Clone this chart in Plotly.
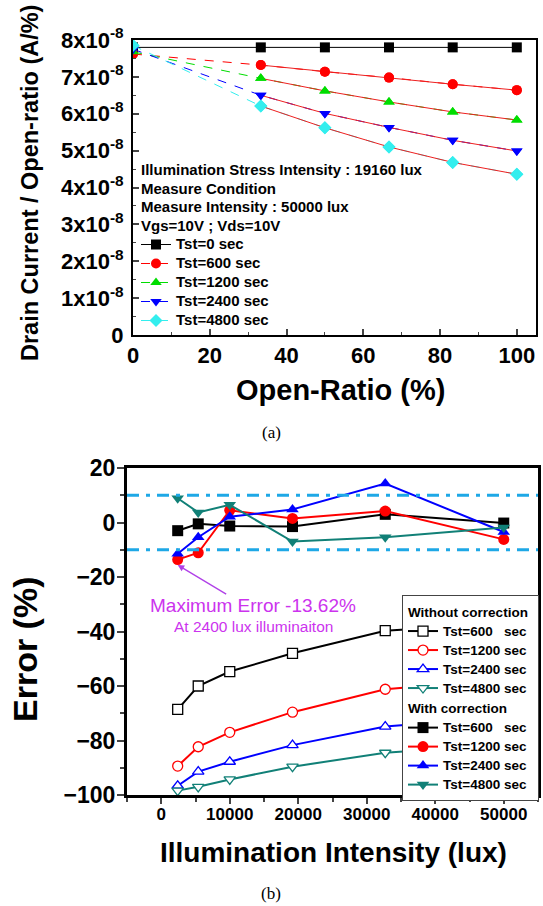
import plotly.graph_objects as go

# ---------------- data (a) ----------------
open_ratio = [0, 33.3, 50, 66.7, 83.3, 100]
i_tst0 = [7.80e-8, 7.80e-8, 7.80e-8, 7.80e-8, 7.80e-8, 7.80e-8]
i_tst600 = [7.62e-8, 7.32e-8, 7.14e-8, 6.98e-8, 6.80e-8, 6.64e-8]
i_tst1200 = [7.68e-8, 6.96e-8, 6.62e-8, 6.32e-8, 6.05e-8, 5.83e-8]
i_tst2400 = [7.75e-8, 6.50e-8, 6.01e-8, 5.63e-8, 5.28e-8, 4.99e-8]
i_tst4800 = [7.85e-8, 6.21e-8, 5.62e-8, 5.10e-8, 4.68e-8, 4.36e-8]
a_names = ["Tst=0 sec", "Tst=600 sec", "Tst=1200 sec", "Tst=2400 sec", "Tst=4800 sec"]
a_ytickvals = [0, 1e-8, 2e-8, 3e-8, 4e-8, 5e-8, 6e-8, 7e-8, 8e-8]
a_yticktext = ["0"] + [f"{k}x10<sup>-8</sup>" for k in range(1, 9)]

# ---------------- data (b) ----------------
lux = [2400, 5400, 10000, 19160, 32700, 50000]
wo_600 = [-68.6, -60.0, -54.7, -48.0, -39.7, -37.0]
wo_1200 = [-89.4, -82.3, -77.0, -69.6, -61.2, -57.5]
wo_2400 = [-96.6, -91.4, -87.8, -81.7, -74.9, -71.5]
wo_4800 = [-98.4, -97.0, -94.3, -89.6, -84.5, -81.5]
wc_600 = [-3.0, -0.5, -1.3, -1.5, 3.0, -0.2]
wc_1200 = [-13.62, -11.1, 4.5, 1.5, 4.2, -6.2]
wc_2400 = [-11.5, -5.4, 2.1, 4.8, 14.3, -3.5]
wc_4800 = [8.9, 3.7, 6.5, -7.0, -5.4, -1.8]
b_names = ["Tst=600\u00a0\u00a0\u00a0sec", "Tst=1200 sec", "Tst=2400 sec", "Tst=4800 sec"]
b_xtickvals = [0, 10000, 20000, 30000, 40000, 50000]
b_xticktext = ["0", "10000", "20000", "30000", "40000", "50000"]
limits = [10, -10]

FONT = "Liberation Sans, Arial, sans-serif"
W, H = 543, 906

fig = go.Figure()

# ---- (a) traces ----
a_series = [i_tst0, i_tst600, i_tst1200, i_tst2400, i_tst4800]
a_colors = ["#000000", "#ff0000", "#00dd00", "#0000ff", "#33eeee"]
a_symbols = ["square", "circle", "triangle-up", "triangle-down", "diamond"]
LS = "<span style='font-size:15px'>%s</span>"
for k, (ys, c, s, n) in enumerate(zip(a_series, a_colors, a_symbols, a_names)):
    fig.add_trace(go.Scatter(
        x=open_ratio, y=ys, mode="lines+markers", name=LS % n,
        line=dict(color=c, width=1, dash="solid" if k == 0 else "dash"),
        marker=dict(symbol=s, size=10, color=c, line=dict(width=0)),
        xaxis="x", yaxis="y", legend="legend"))
for ys in a_series[1:]:
    fig.add_trace(go.Scatter(
        x=open_ratio[1:], y=ys[1:], mode="lines", showlegend=False,
        line=dict(color="#ee2020", width=1), hoverinfo="skip",
        xaxis="x", yaxis="y"))
for ys, c, s in zip(a_series[1:], a_colors[1:], a_symbols[1:]):
    fig.add_trace(go.Scatter(
        x=open_ratio, y=ys, mode="markers", showlegend=False,
        marker=dict(symbol=s, size=10, color=c), xaxis="x", yaxis="y"))

# ---- (b) traces ----
b_colors = ["#000000", "#ff0000", "#0000ff", "#118077"]
b_symbols = ["square", "circle", "triangle-up", "triangle-down"]
LB = "<span style='font-size:13.5px;font-weight:bold'>%s</span>"
for k, (ys, c, s) in enumerate(zip([wo_600, wo_1200, wo_2400, wo_4800], b_colors, b_symbols)):
    fig.add_trace(go.Scatter(
        x=lux, y=ys, mode="lines+markers", name=LB % b_names[k],
        line=dict(color=c, width=2),
        marker=dict(symbol=s, size=10, color="white", line=dict(color=c, width=1.3)),
        legendgroup="wo", legendgrouptitle=dict(text="<b>Without correction</b>"),
        xaxis="x2", yaxis="y2", legend="legend2"))
for k, (ys, c, s) in enumerate(zip([wc_600, wc_1200, wc_2400, wc_4800], b_colors, b_symbols)):
    fig.add_trace(go.Scatter(
        x=lux, y=ys, mode="lines+markers", name=LB % b_names[k],
        line=dict(color=c, width=2),
        marker=dict(symbol=s, size=11, color=c, line=dict(width=0)),
        legendgroup="w", legendgrouptitle=dict(text="<b>With correction</b>"),
        xaxis="x2", yaxis="y2", legend="legend2"))

# limit lines
for v in limits:
    fig.add_shape(type="line", xref="x2 domain", yref="y2", x0=0, x1=1, y0=v, y1=v,
                  line=dict(color="#1ea8e6", width=3, dash="12px,7px,4px,7px"))

fig.update_layout(
    width=W, height=H, margin=dict(l=0, r=0, t=0, b=0, autoexpand=False),
    paper_bgcolor="white", plot_bgcolor="white", showlegend=True,
    xaxis=dict(domain=[133 / W, 536 / W], range=[0, 105], anchor="y", automargin=False,
               tickvals=[0, 20, 40, 60, 80, 100], ticks="inside", ticklen=6, tickwidth=1.5,
               minor=dict(dtick=10, ticks="inside", ticklen=3, tickwidth=1.2),
               showline=True, linecolor="black", linewidth=2, mirror=True,
               showgrid=False, zeroline=False,
               tickfont=dict(family=FONT, size=22, color="black", weight="bold")),
    yaxis=dict(domain=[1 - 335 / H, 1 - 40 / H], range=[0, 8e-8], anchor="x", automargin=False,
               tickvals=a_ytickvals, ticktext=a_yticktext, ticks="inside", ticklen=6, tickwidth=1.5,
               minor=dict(dtick=0.5e-8, ticks="inside", ticklen=3, tickwidth=1.2),
               showline=True, linecolor="black", linewidth=2, mirror=True,
               showgrid=False, zeroline=False, ticklabelstandoff=3,
               tickfont=dict(family=FONT, size=22, color="black", weight="bold")),
    xaxis2=dict(domain=[127 / W, 538 / W], range=[-5000, 55000], anchor="y2", automargin=False,
                tickvals=b_xtickvals, ticktext=b_xticktext, ticks="outside", ticklen=6, tickwidth=2,
                minor=dict(dtick=5000, ticks="outside", ticklen=4, tickwidth=1.5),
                showline=True, linecolor="black", linewidth=3, mirror=True,
                showgrid=False, zeroline=False, ticklabelstandoff=-4,
                tickfont=dict(family=FONT, size=17, color="black", weight="bold")),
    yaxis2=dict(domain=[1 - 795 / H, 1 - 468 / H], range=[-100, 20], anchor="x2", automargin=False,
                tickvals=[-100, -80, -60, -40, -20, 0, 20], ticks="outside", ticklen=7, tickwidth=2,
                minor=dict(dtick=10, ticks="outside", ticklen=4, tickwidth=1.5),
                showline=True, linecolor="black", linewidth=3, mirror=True,
                showgrid=False, zeroline=False, ticklabelstandoff=-3,
                tickfont=dict(family=FONT, size=23, color="black", weight="bold")),
    legend=dict(x=136 / W, y=1 - 230 / H, xanchor="left", yanchor="top",
                bgcolor="rgba(0,0,0,0)", borderwidth=0,
                font=dict(family=FONT, size=11.9, color="black", weight="bold"),
                tracegroupgap=0, itemwidth=30),
    legend2=dict(x=539 / W, y=1 - 595 / H, xanchor="right", yanchor="top",
                 bgcolor="white", bordercolor="#444", borderwidth=1,
                 font=dict(family=FONT, size=12.2, color="black"),
                 grouptitlefont=dict(family=FONT, size=13.5, color="black"),
                 tracegroupgap=0, itemwidth=30, traceorder="grouped"),
)

anns = []
def add_text(text, x, y, size, color="black", family=FONT, angle=0, xanchor="center"):
    anns.append(dict(text=text, x=x / W, y=1 - y / H, xref="paper", yref="paper",
                     xanchor=xanchor, yanchor="middle", textangle=angle, showarrow=False,
                     font=dict(family=family, size=size, color=color)))

# (a) inner texts
a_texts = ["Illumination Stress Intensity : 19160 lux", "Measure Condition",
           "Measure Intensity : 50000 lux", "Vgs=10V ; Vds=10V"]
for i, t in enumerate(a_texts):
    add_text(f"<b>{t}</b>", 139, 170 + 18.5 * i, 15, xanchor="left")
# axis titles / captions
add_text("<b>Drain Current / Open-ratio (A/%)</b>", 30, 183, 23.5, angle=-90)
add_text("<b>Open-Ratio (%)</b>", 340, 390, 29)
add_text("(a)", 271, 432, 17, family="Liberation Serif, serif")
add_text("<b>Error (%)</b>", 25, 650, 34, angle=-90)
add_text("<b>Illumination Intensity (lux)</b>", 333, 852, 28)
add_text("(b)", 271, 893, 17, family="Liberation Serif, serif")
# max error annotation
add_text("Maximum Error -13.62%", 148, 605, 19, color="#cc33ee", xanchor="left")
add_text("At 2400 lux illuminaiton", 172, 626, 15.5, color="#cc33ee", xanchor="left")
anns.append(dict(text="", x=lux[0], y=-15.6, xref="x2", yref="y2", ax=50, ay=30,
                 showarrow=True, arrowhead=2, arrowsize=1, arrowwidth=1.3, arrowcolor="#b040e8"))
fig.update_layout(annotations=anns)

fig.write_html("out.html")
